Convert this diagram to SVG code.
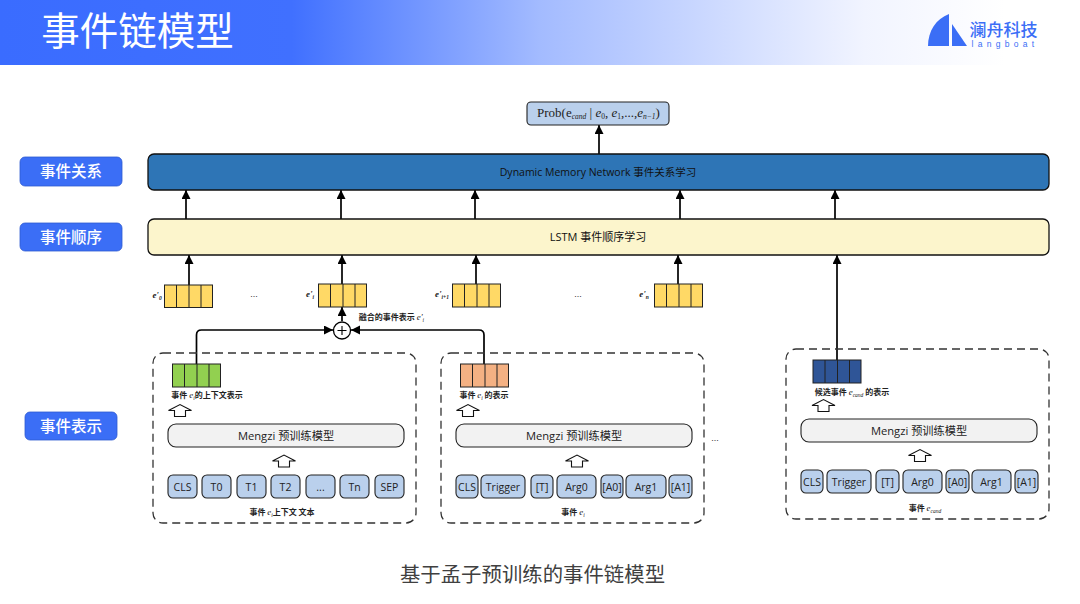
<svg xmlns="http://www.w3.org/2000/svg" width="1080" height="604" viewBox="0 0 1080 604">
<style>
text{font-family:"Liberation Sans","Noto Sans CJK SC",sans-serif;text-anchor:middle;fill:#222}
.cjk{font-family:"Noto Sans CJK SC",sans-serif}
.side rect{fill:#3b6ef6;stroke:#2f5bd0;stroke-width:.8}
.side text{fill:#fff;font-size:15.500px;font-weight:500;font-family:"Noto Sans CJK SC",sans-serif}
.bar{stroke:#111;stroke-width:1.3}
.tok rect{fill:#bad0ec;stroke:#222;stroke-width:1.1}
.tok text{font-size:10.500px;font-family:"Open Sans","Liberation Sans",sans-serif;fill:#222}
.model rect{fill:#f2f2f2;stroke:#222;stroke-width:1.1}
.model text{font-size:11.200px;font-family:"Open Sans","Noto Sans CJK SC",sans-serif;fill:#222}
.dash{fill:none;stroke:#333;stroke-width:1.3;stroke-dasharray:8 5}
.conn{fill:none;stroke:#000;stroke-width:1.700}
.cell{stroke:#222;stroke-width:1}
.cap{font-size:8px;font-weight:700;font-family:"Noto Sans CJK SC",sans-serif;fill:#222}
.m{font-family:"Liberation Serif",serif;font-style:italic;font-weight:400}
.dots{font-size:9px;fill:#333}
.hollow{fill:#fff;stroke:#111;stroke-width:1.1}
</style>
<defs>
<linearGradient id="hdr" x1="0" x2="1" y1="0" y2="0">
<stop offset="0" stop-color="#3a6cff"/><stop offset=".27" stop-color="#4070ff"/><stop offset=".5" stop-color="#a3bbff"/><stop offset=".8" stop-color="#f1f4ff"/><stop offset=".93" stop-color="#fff"/>
</linearGradient>
<marker id="ah" markerUnits="userSpaceOnUse" markerWidth="10" markerHeight="10" refX="9" refY="4.500" orient="auto">
<path d="M0 0L9 4.500L0 9z" fill="#000"/>
</marker>
<polygon id="hol" class="hollow" points="0,6 11.500,0 23,6 17,6 17,12 6,12 6,6"/>
<path id="cells" d="M12 0V23M24.500 0V23M36.500 0V23" fill="none" stroke="#222" stroke-width="1"/>
</defs>

<g id="header">
<rect x="0" y="0" width="1080" height="65" fill="url(#hdr)"/>
<text x="137.500" y="44.500" class="cjk" style="font-size:38.500px;fill:#fff;font-weight:400">事件链模型</text>
</g>
<g id="logo">
<path d="M949 14C936 19 928 31 928 46H949z" fill="#3b6ef6"/>
<path d="M952 24L967 46H952z" fill="#3b6ef6"/>
<text x="1003.500" y="36" class="cjk" style="font-size:17px;fill:#3b6ef6;font-weight:500">澜舟科技</text>
<text x="1005" y="47" style="font-size:8.500px;fill:#3b6ef6;letter-spacing:4.300px">langboat</text>
</g>

<g id="connectors">
<path class="conn" marker-end="url(#ah)" d="M186 219V190"/>
<path class="conn" marker-end="url(#ah)" d="M341 219V190"/>
<path class="conn" marker-end="url(#ah)" d="M475 219V190"/>
<path class="conn" marker-end="url(#ah)" d="M680 219V190"/>
<path class="conn" marker-end="url(#ah)" d="M835 219V190"/>
<path class="conn" marker-end="url(#ah)" d="M599 154V125"/>
<path class="conn" marker-end="url(#ah)" d="M189 285V255"/>
<path class="conn" marker-end="url(#ah)" d="M342 307V255"/>
<path class="conn" marker-end="url(#ah)" d="M476 285V255"/>
<path class="conn" marker-end="url(#ah)" d="M678 285V255"/>
<path class="conn" marker-end="url(#ah)" d="M837 360V255"/>
<path class="conn" marker-end="url(#ah)" d="M342 321V307"/>
<path class="conn" marker-end="url(#ah)" d="M196.500 364V335Q196.500 330 201.500 330H333"/>
<path class="conn" marker-end="url(#ah)" d="M484 364V335Q484 330 479 330H351"/>
</g>

<g id="prob">
<rect x="527" y="102" width="142" height="23" rx="4" fill="#bad0ec" stroke="#222" stroke-width="1.100"/>
<text x="598.500" y="117" style="font-family:'Liberation Serif',serif;font-size:13px">Prob(e<tspan class="m" font-size="7.500" dy="2">cand</tspan><tspan dy="-2"> | </tspan><tspan class="m">e</tspan><tspan font-size="7.500" dy="2">0</tspan><tspan dy="-2">, </tspan><tspan class="m">e</tspan><tspan font-size="7.500" dy="2">1</tspan><tspan dy="-2">,...,</tspan><tspan class="m">e</tspan><tspan class="m" font-size="7.500" dy="2">n−1</tspan><tspan dy="-2">)</tspan></text>
</g>

<g id="label-relation" class="side"><rect x="20" y="157" width="102" height="29" rx="5"/><text x="71" y="177">事件关系</text></g>
<g id="label-order" class="side"><rect x="20" y="223" width="102" height="28" rx="5"/><text x="71" y="243">事件顺序</text></g>
<g id="label-repr" class="side"><rect x="25" y="412" width="92" height="28" rx="5"/><text x="71" y="432">事件表示</text></g>

<g id="dmn">
<rect class="bar" x="148" y="154" width="901" height="36" rx="6" fill="#2e75b6"/>
<text x="598" y="176" style="font-size:10.500px;font-family:'Open Sans','Noto Sans CJK SC',sans-serif;fill:#111">Dynamic Memory Network 事件关系学习</text>
</g>
<g id="lstm">
<rect class="bar" x="148" y="219" width="901" height="36" rx="6" fill="#fcf5cc"/>
<text x="598" y="241" style="font-size:11px;font-family:'Open Sans','Noto Sans CJK SC',sans-serif;fill:#111">LSTM 事件顺序学习</text>
</g>

<g id="cell-e0"><rect class="cell" x="164.500" y="285" width="48" height="22.500" fill="#ffd966"/><use href="#cells" x="164.500" y="285"/>
<text x="157" y="298" class="m" style="font-size:9px;font-weight:700">e'<tspan font-size="5.500" dy="2">0</tspan></text></g>
<g id="cell-ei"><rect class="cell" x="318.500" y="284" width="48" height="23" fill="#ffd966"/><use href="#cells" x="318.500" y="284"/>
<text x="310" y="297" class="m" style="font-size:9px;font-weight:700">e'<tspan font-size="5.500" dy="2">i</tspan></text></g>
<g id="cell-ei1"><rect class="cell" x="452.500" y="284" width="48" height="23" fill="#ffd966"/><use href="#cells" x="452.500" y="284"/>
<text x="442" y="297" class="m" style="font-size:9px;font-weight:700">e'<tspan font-size="5.500" dy="2">i+1</tspan></text></g>
<g id="cell-en"><rect class="cell" x="654.500" y="284" width="48" height="23" fill="#ffd966"/><use href="#cells" x="654.500" y="284"/>
<text x="644" y="297" class="m" style="font-size:9px;font-weight:700">e'<tspan font-size="5.500" dy="2">n</tspan></text></g>
<text class="dots" x="254" y="297">...</text>
<text class="dots" x="578" y="297">...</text>
<text class="dots" x="715" y="441">...</text>

<g id="fusion">
<circle cx="342" cy="330.500" r="8.500" fill="#fff" stroke="#000" stroke-width="1.300"/>
<path d="M337.500 330.500H346.500M342 326V335" stroke="#000" stroke-width="1.100" fill="none"/>
<text x="391.500" y="320" class="cap">融合的事件表示 <tspan class="m" font-size="9">e'</tspan><tspan class="m" font-size="5.500" dy="2">i</tspan></text>
</g>

<g id="event-context">
<rect class="dash" x="153" y="353" width="263" height="170" rx="10"/>
<rect class="cell" x="172.500" y="364" width="48" height="23" fill="#92d050"/><use href="#cells" x="172.500" y="364"/>
<text x="207" y="398" class="cap">事件 <tspan class="m" font-size="9">e</tspan><tspan class="m" font-size="5.500" dy="2">i</tspan><tspan dy="-2">的上下文表示</tspan></text>
<use href="#hol" x="168.500" y="404.500"/>
<g class="model"><rect x="168" y="424" width="236" height="23" rx="8"/><text x="286" y="440">Mengzi 预训练模型</text></g>
<use href="#hol" x="272.500" y="455"/>
<g class="tok">
<rect x="168" y="475" width="29" height="23" rx="5"/><text x="182.500" y="491">CLS</text>
<rect x="202" y="475" width="29" height="23" rx="5"/><text x="216.500" y="491">T0</text>
<rect x="237" y="475" width="29" height="23" rx="5"/><text x="251.500" y="491">T1</text>
<rect x="271" y="475" width="29" height="23" rx="5"/><text x="285.500" y="491">T2</text>
<rect x="306" y="475" width="29" height="23" rx="5"/><text x="320.500" y="491">...</text>
<rect x="340" y="475" width="29" height="23" rx="5"/><text x="354.500" y="491">Tn</text>
<rect x="375" y="475" width="29" height="23" rx="5"/><text x="389.500" y="491">SEP</text>
</g>
<text x="282" y="515" class="cap">事件 <tspan class="m" font-size="9">e</tspan><tspan class="m" font-size="5.500" dy="2">i</tspan><tspan dy="-2">上下文 文本</tspan></text>
</g>

<g id="event-i">
<rect class="dash" x="441" y="353" width="263" height="170" rx="10"/>
<rect class="cell" x="460.500" y="364" width="48" height="23" fill="#f4b183"/><use href="#cells" x="460.500" y="364"/>
<text x="484" y="398" class="cap">事件 <tspan class="m" font-size="9">e</tspan><tspan class="m" font-size="5.500" dy="2">i</tspan><tspan dy="-2"> 的表示</tspan></text>
<use href="#hol" x="456.500" y="404.500"/>
<g class="model"><rect x="456" y="424" width="236" height="23" rx="8"/><text x="574" y="440">Mengzi 预训练模型</text></g>
<use href="#hol" x="565.500" y="455"/>
<g class="tok">
<rect x="456" y="475" width="22" height="23" rx="5"/><text x="467" y="491">CLS</text>
<rect x="481" y="475" width="44" height="23" rx="5"/><text x="503" y="491">Trigger</text>
<rect x="531" y="475" width="22" height="23" rx="5"/><text x="542" y="491">[T]</text>
<rect x="557" y="475" width="39" height="23" rx="5"/><text x="576.500" y="491">Arg0</text>
<rect x="601" y="475" width="22" height="23" rx="5"/><text x="612" y="491">[A0]</text>
<rect x="626" y="475" width="40" height="23" rx="5"/><text x="646" y="491">Arg1</text>
<rect x="669" y="475" width="23" height="23" rx="5"/><text x="680.500" y="491">[A1]</text>
</g>
<text x="573" y="515" class="cap">事件 <tspan class="m" font-size="9">e</tspan><tspan class="m" font-size="5.500" dy="2">i</tspan></text>
</g>

<g id="event-cand">
<rect class="dash" x="786" y="349" width="263" height="170" rx="10"/>
<rect class="cell" x="813" y="360" width="48" height="23" fill="#2f5597"/><use href="#cells" x="813" y="360"/>
<text x="852" y="395" class="cap">候选事件 <tspan class="m" font-size="9">e</tspan><tspan class="m" font-size="5.500" dy="2">cand</tspan><tspan dy="-2"> 的表示</tspan></text>
<use href="#hol" x="812" y="399.500"/>
<g class="model"><rect x="801" y="419" width="236" height="23" rx="8"/><text x="919" y="435">Mengzi 预训练模型</text></g>
<use href="#hol" x="908.500" y="449.500"/>
<g class="tok">
<rect x="801" y="470" width="22" height="23" rx="5"/><text x="812" y="486">CLS</text>
<rect x="827" y="470" width="44" height="23" rx="5"/><text x="849" y="486">Trigger</text>
<rect x="876" y="470" width="23" height="23" rx="5"/><text x="887.500" y="486">[T]</text>
<rect x="903" y="470" width="39" height="23" rx="5"/><text x="922.500" y="486">Arg0</text>
<rect x="946" y="470" width="23" height="23" rx="5"/><text x="957.500" y="486">[A0]</text>
<rect x="972" y="470" width="39" height="23" rx="5"/><text x="991.500" y="486">Arg1</text>
<rect x="1015" y="470" width="23" height="23" rx="5"/><text x="1026.500" y="486">[A1]</text>
</g>
<text x="925" y="511" class="cap">事件 <tspan class="m" font-size="9">e</tspan><tspan class="m" font-size="5.500" dy="2">cand</tspan></text>
</g>

<text id="caption" x="532.500" y="581.500" class="cjk" style="font-size:20.400px;fill:#404040">基于孟子预训练的事件链模型</text>
</svg>
